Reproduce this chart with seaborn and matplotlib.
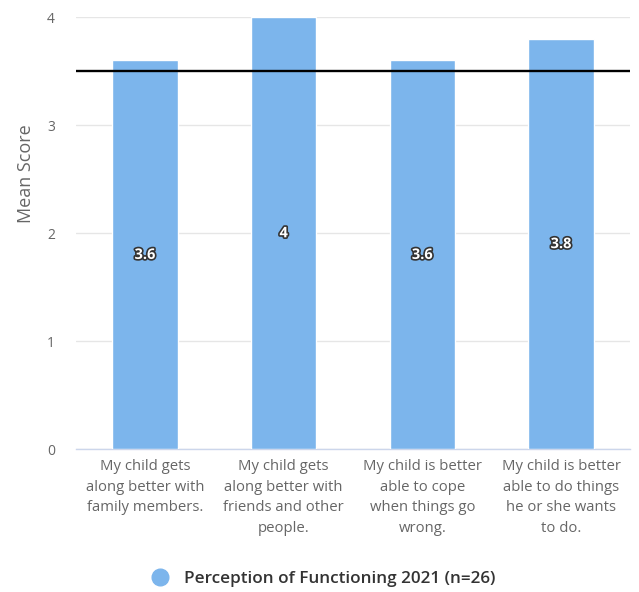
import matplotlib
matplotlib.use("Agg")
import matplotlib.pyplot as plt
import matplotlib.patheffects as pe
from matplotlib.lines import Line2D
import pandas as pd
import seaborn as sns

# Survey items (wrapped as they appear on the axis) and their mean scores
categories = [
    "My child gets\nalong better with\nfamily members.",
    "My child gets\nalong better with\nfriends and other\npeople.",
    "My child is better\nable to cope\nwhen things go\nwrong.",
    "My child is better\nable to do things\nhe or she wants\nto do.",
]
mean_scores = [3.6, 4, 3.6, 3.8]
value_labels = ["3.6", "4", "3.6", "3.8"]
benchmark = 3.5
series_name = "Perception of Functioning 2021 (n=26)"
y_ticks = [0, 1, 2, 3, 4]

df = pd.DataFrame({"item": categories, "score": mean_scores})

sns.set_theme(style="white")
plt.rcParams["font.family"] = ["Open Sans", "DejaVu Sans"]

bar_color = "#7cb5ec"
fig = plt.figure(figsize=(6.39, 5.92), dpi=100)
ax = fig.add_axes([0.1185, 0.241, 0.868, 0.7298])

sns.barplot(data=df, x="item", y="score", color=bar_color, saturation=1,
            width=0.47, ax=ax, zorder=3)

ax.set_ylim(0, 4)
ax.set_xlim(-0.5, len(categories) - 0.5)
ax.set_yticks(y_ticks)
ax.set_yticklabels([str(t) for t in y_ticks])
ax.yaxis.grid(True, color="#e6e6e6", linewidth=1, zorder=0)
ax.set_axisbelow(True)

for side in ("top", "right", "left"):
    ax.spines[side].set_visible(False)
ax.spines["bottom"].set_color("#ccd6eb")
ax.spines["bottom"].set_linewidth(1)

ax.tick_params(axis="y", length=0, pad=15, labelsize=10, labelcolor="#666666")
ax.tick_params(axis="x", length=0, pad=7, labelsize=10.7, labelcolor="#666666")
for lbl in ax.get_xticklabels():
    lbl.set_linespacing(1.5)
    lbl.set_horizontalalignment("center")

ax.set_xlabel("")
ax.set_ylabel("")
fig.text(0.041, 0.706, "Mean Score", rotation=90, ha="center", va="center",
         fontsize=13, color="#666666")

# Benchmark line
ax.axhline(benchmark, color="black", linewidth=1.7, zorder=4)

# Value labels in the middle of each bar
for i, (v, txt) in enumerate(zip(mean_scores, value_labels)):
    ax.text(i, v / 2, txt, ha="center", va="center", fontsize=10.5,
            fontweight="bold", color="white", zorder=5,
            path_effects=[pe.withStroke(linewidth=2.4, foreground="#333333")])

# Legend
handle = Line2D([0], [0], marker="o", linestyle="none", markersize=12,
                markerfacecolor=bar_color, markeredgecolor=bar_color)
fig.legend([handle], [series_name], loc="center", bbox_to_anchor=(0.50, 0.022),
           frameon=False, handletextpad=0.4, labelcolor="#333333",
           prop={"size": 12.3, "weight": "semibold"})

fig.savefig("out.png", dpi=100)
